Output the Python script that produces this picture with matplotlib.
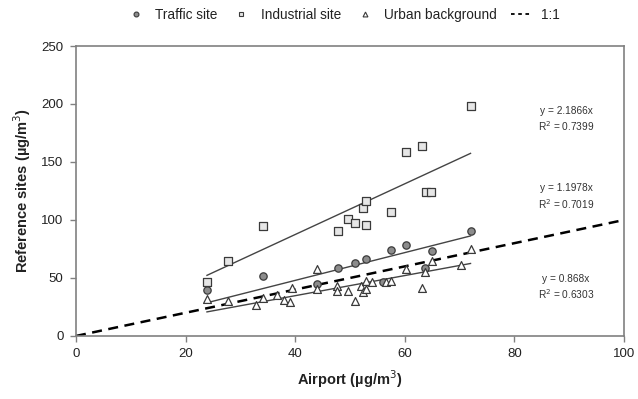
import matplotlib
matplotlib.use("Agg")
import matplotlib.pyplot as plt
from matplotlib.lines import Line2D
import numpy as np

plt.rcParams['font.family'] = ['Liberation Sans', 'DejaVu Sans']

# Data (Airport vs reference sites, µg/m3)
traffic_x = [23.9, 34.1, 43.9, 47.8, 51.0, 52.9, 56.1, 57.5, 60.3, 63.7, 64.9, 72.0]
traffic_y = [39.7, 51.4, 45.0, 58.5, 63.2, 66.4, 46.3, 74.4, 78.2, 58.9, 73.0, 90.8]

industrial_x = [23.9, 27.7, 34.1, 47.8, 49.7, 51.0, 52.9, 52.4, 52.9, 57.5, 60.3, 63.2, 63.8, 64.8, 72.0]
industrial_y = [46.3, 64.7, 94.6, 90.5, 100.8, 97.0, 95.7, 110.0, 116.6, 106.6, 158.9, 164.0, 123.9, 123.9, 198.0]

urban_x = [23.9, 27.7, 32.8, 34.2, 36.7, 38.0, 39.1, 39.4, 43.9, 43.9, 47.7, 47.7, 49.7, 51.0,
           52.1, 52.4, 52.9, 52.9, 54.0, 56.6, 57.5, 60.3, 63.7, 63.2, 64.9, 70.2, 72.0]
urban_y = [31.9, 30.4, 26.7, 32.5, 35.6, 31.0, 29.0, 41.4, 57.8, 40.5, 43.4, 39.0, 39.0, 30.5,
           43.4, 37.6, 47.1, 40.5, 46.3, 46.3, 47.1, 57.8, 54.9, 41.1, 64.9, 61.5, 75.0]

slopes = {'traffic': 1.1978, 'industrial': 2.1866, 'urban': 0.868}
r2 = {'traffic': 0.7019, 'industrial': 0.7399, 'urban': 0.6303}
one_to_one_x = [0, 100]

fig = plt.figure(figsize=(6.38, 3.99), dpi=100)
ax = fig.add_axes([0.1191, 0.158, 0.8589, 0.7267])

edge = '#3a3a3a'
ax.scatter(traffic_x, traffic_y, marker='o', s=28, facecolor='#8c8c8c', edgecolor=edge, linewidth=0.9, zorder=3)
ax.scatter(industrial_x, industrial_y, marker='s', s=34, facecolor='#e6e6e6', edgecolor=edge, linewidth=0.9, zorder=3)
ax.scatter(urban_x, urban_y, marker='^', s=32, facecolor='white', edgecolor=edge, linewidth=0.9, zorder=3)

for key, xs in (('traffic', traffic_x), ('industrial', industrial_x), ('urban', urban_x)):
    xr = np.array([min(xs), max(xs)])
    ax.plot(xr, slopes[key] * xr, color='#444444', lw=1.0, zorder=2)

ax.plot(one_to_one_x, one_to_one_x, color='black', lw=1.8, linestyle=(0, (4, 2.6)), zorder=2)

ax.set_xlim(0, 100)
ax.set_ylim(0, 250)
ax.set_xticks([0, 20, 40, 60, 80, 100])
ax.set_yticks([0, 50, 100, 150, 200, 250])
for s in ax.spines.values():
    s.set_color('#808080')
    s.set_linewidth(1.2)
ax.tick_params(direction='out', length=4, width=1, color='#808080', labelsize=9.5, labelcolor='#222222', pad=5)
ax.set_xlabel('Airport (µg/m$^3$)', fontsize=10.5, fontweight='bold', color='#222222', labelpad=6)
ax.set_ylabel('Reference sites (µg/m$^3$)', fontsize=10.5, fontweight='bold', color='#222222', labelpad=6)

# Equation annotations
ann = [('industrial', 111, 126), ('traffic', 188, 204), ('urban', 279, 294)]
for key, y1, y2 in ann:
    sl = slopes[key]
    txt = f"y = {sl:g}x"
    fig.text(566 / 638, 1 - y1 / 399, txt, ha='center', va='center', fontsize=7.3, color='#333333')
    fig.text(566 / 638, 1 - y2 / 399, f"R$^2$ = {r2[key]:.4f}", ha='center', va='center', fontsize=7.3, color='#333333')

handles = [
    Line2D([], [], marker='o', ls='none', markersize=3.5, markerfacecolor='#8c8c8c', markeredgecolor=edge, markeredgewidth=0.8),
    Line2D([], [], marker='s', ls='none', markersize=3.5, markerfacecolor='#e6e6e6', markeredgecolor=edge, markeredgewidth=0.8),
    Line2D([], [], marker='^', ls='none', markersize=3.5, markerfacecolor='white', markeredgecolor=edge, markeredgewidth=0.8),
    Line2D([], [], color='black', lw=1.3, linestyle=(0, (2, 2))),
]
labels = ['Traffic site', 'Industrial site', 'Urban background', '1:1']
fig.legend(handles, labels, loc='center', bbox_to_anchor=(342 / 638, 1 - 15 / 399), ncol=4, frameon=False,
           fontsize=9.8, handlelength=1.6, handletextpad=0.6, columnspacing=1.0, labelcolor='#222222')

fig.savefig('out.png', dpi=100)
